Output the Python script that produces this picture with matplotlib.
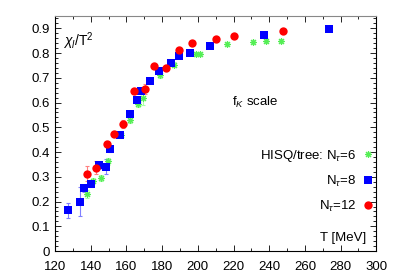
import numpy as np
import matplotlib
matplotlib.use('Agg')
import matplotlib.pyplot as plt
from matplotlib.ticker import MultipleLocator

plt.rcParams['font.family'] = ['Liberation Sans', 'DejaVu Sans']
plt.rcParams['mathtext.fontset'] = 'custom'
plt.rcParams['mathtext.rm'] = 'Liberation Sans'
plt.rcParams['mathtext.it'] = 'Liberation Sans:italic'

# HISQ/tree N_tau=6
t6 = [137.8, 141.0, 145.6, 149.6, 157.2, 162.1, 166.4, 169.3, 178.9, 186.9,
      199.0, 201.5, 216.3, 231.2, 238.0, 246.4]
c6 = [0.230, 0.285, 0.297, 0.363, 0.470, 0.529, 0.596, 0.620, 0.710, 0.753,
      0.798, 0.797, 0.835, 0.845, 0.847, 0.849]
e6 = [0.015, 0.010, 0.012, 0.015, 0.012, 0.012, 0.012, 0.030, 0.010, 0.010,
      0.008, 0.008, 0.008, 0.008, 0.008, 0.008]

# N_tau=8
t8 = [127.3, 134.2, 136.4, 140.2, 144.5, 148.6, 150.7, 156.5, 161.9, 165.8,
      168.4, 173.3, 178.3, 184.7, 189.4, 195.8, 207.1, 237.1, 273.7]
c8 = [0.165, 0.200, 0.253, 0.272, 0.346, 0.341, 0.412, 0.470, 0.552, 0.610,
      0.646, 0.689, 0.728, 0.761, 0.787, 0.800, 0.830, 0.873, 0.898]
e8 = [0.030, 0.060, 0.015, 0.012, 0.015, 0.030, 0.012, 0.010, 0.010, 0.012,
      0.010, 0.008, 0.008, 0.008, 0.008, 0.006, 0.006, 0.006, 0.006]

# N_tau=12
t12 = [137.9, 143.0, 149.0, 153.2, 157.9, 164.0, 170.5, 175.5, 182.4, 189.6,
       196.8, 210.3, 220.0, 248.0]
c12 = [0.313, 0.337, 0.434, 0.474, 0.514, 0.645, 0.656, 0.749, 0.741, 0.811,
       0.840, 0.855, 0.868, 0.889]
e12 = [0.030, 0.025, 0.012, 0.012, 0.015, 0.012, 0.020, 0.010, 0.010, 0.012,
       0.010, 0.008, 0.008, 0.008]

fig = plt.figure(figsize=(3.99, 2.79), dpi=100)
ax = fig.add_axes([0.138, 0.100, 0.805, 0.843])

star = (8, 2, 0)
ax.errorbar(t6, c6, yerr=e6, fmt='none', ecolor='#aaffaa', elinewidth=0.8,
            capsize=1.5, capthick=0.8)
ax.errorbar(t8, c8, yerr=e8, fmt='none', ecolor='#8080ff', elinewidth=0.8,
            capsize=1.5, capthick=0.8)
ax.errorbar(t12, c12, yerr=e12, fmt='none', ecolor='#ff8080', elinewidth=0.8,
            capsize=1.5, capthick=0.8)
ax.plot(t6, c6, linestyle='none', marker=star, ms=5, mew=0.8, color='#55ee55',
        label=r'HISQ/tree: N$_{\tau}$=6')
ax.plot(t8, c8, linestyle='none', marker='s', ms=5.8, color='#0000ff', mew=0,
        label=r'N$_{\tau}$=8')
ax.plot(t12, c12, linestyle='none', marker='o', ms=6, color='#ff0000', mew=0,
        label=r'N$_{\tau}$=12')

ax.set_xlim(120, 300)
ax.set_ylim(0, 0.95)
ax.xaxis.set_major_locator(MultipleLocator(20))
ax.xaxis.set_minor_locator(MultipleLocator(10))
ax.yaxis.set_minor_locator(MultipleLocator(0.02))
ax.set_yticks(np.arange(0, 0.91, 0.1))
ax.set_yticklabels(['0'] + ['%.1f' % v for v in np.arange(0.1, 0.91, 0.1)])
ax.tick_params(which='both', direction='in', top=True, right=True,
               labelsize=9.5, width=0.6)
ax.tick_params(which='major', length=4)
ax.tick_params(which='minor', length=2)
ax.tick_params(axis='x', which='major', pad=7)
for s in ax.spines.values():
    s.set_linewidth(0.8)
ax.spines['top'].set_color('#888888')

ax.text(0.025, 0.94, r'$\chi_l$/T$^2$', transform=ax.transAxes,
        fontsize=10, va='top', ha='left')
ax.text(0.97, 0.03, 'T [MeV]', transform=ax.transAxes, fontsize=9.5,
        ha='right', va='bottom')
ax.text(0.55, 0.63, r'f$_K$ scale', transform=ax.transAxes, fontsize=9.5,
        ha='left', va='center')

ax.legend(loc='center right', bbox_to_anchor=(1.0, 0.30), frameon=False,
          markerfirst=False, fontsize=9.5, handlelength=0.8,
          handletextpad=0.5, labelspacing=0.75, borderaxespad=0.0,
          borderpad=0.2)

fig.savefig('out.png', dpi=100)
